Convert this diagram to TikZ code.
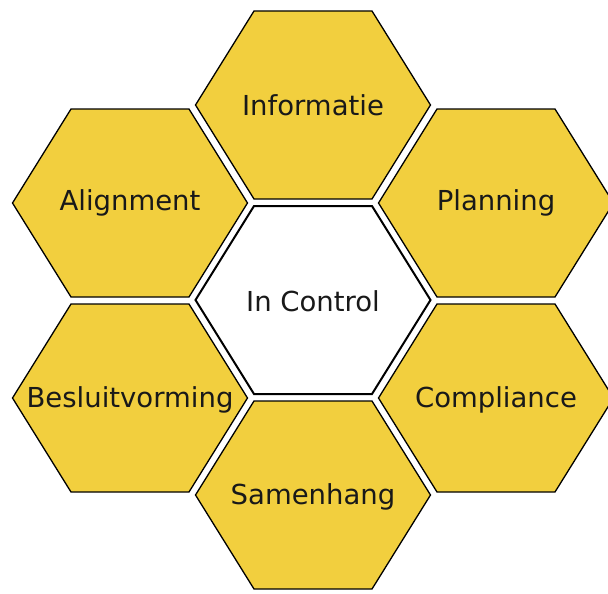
\documentclass[tikz,border=0pt]{standalone}
\usepackage{fontspec}
\setmainfont{DejaVu Sans}
\definecolor{hexyellow}{RGB}{242,207,62}
\tikzset{
  hexlabel/.style={font=\fontsize{27.5}{32}\selectfont, text=black!90, inner sep=0pt},
  outerhex/.style={draw=black, fill=hexyellow, line width=1.3pt, line join=miter},
  innerhex/.style={draw=black, fill=white, line width=2pt, line join=miter}
}
\newcommand{\hexpath}[3]{%
  \path[#3] (#1-117.5,#2) -- (#1-59,#2-94) -- (#1+59,#2-94) -- (#1+117.5,#2)
    -- (#1+59,#2+94) -- (#1-59,#2+94) -- cycle;}
\begin{document}
\begin{tikzpicture}[x=1pt,y=-1pt]
\useasboundingbox (0,0) rectangle (608,594);
\begin{scope}
\clip (0,0) rectangle (608,594);
\hexpath{313}{105}{outerhex}
\hexpath{130}{203}{outerhex}
\hexpath{496}{203}{outerhex}
\hexpath{130}{398}{outerhex}
\hexpath{496}{398}{outerhex}
\hexpath{313}{495}{outerhex}
\hexpath{313}{300}{innerhex}
\end{scope}
\node[hexlabel] (info) at (313,105) {Informatie};
\node[hexlabel] (align) at (130,203) {Alignment};
\node[hexlabel] (plan) at (496,203) {Planning};
\node[hexlabel] (ctrl) at (313,301) {In Control};
\node[hexlabel] (besl) at (130,400) {Besluitvorming};
\node[hexlabel] (comp) at (496,400) {Compliance};
\node[hexlabel] (samen) at (313,497) {Samenhang};
\end{tikzpicture}
\end{document}
